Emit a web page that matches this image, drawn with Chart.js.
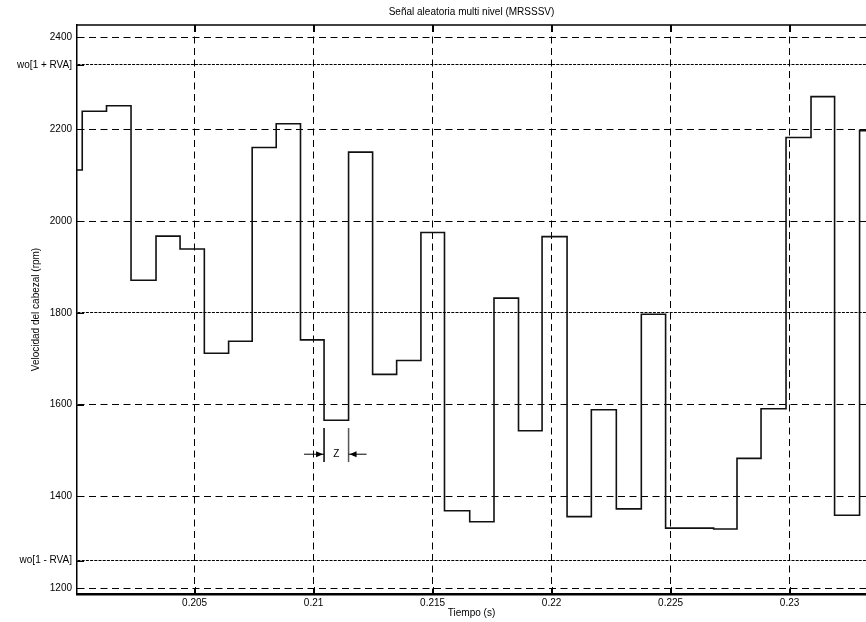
<!DOCTYPE html>
<html lang="es">
<head>
<meta charset="utf-8">
<title>Señal aleatoria multi nivel (MRSSSV)</title>
<script src="https://cdn.jsdelivr.net/npm/chart.js@4.4.1/dist/chart.umd.min.js"></script>
<style>
    html, body { margin: 0; padding: 0; background: #fff; overflow: hidden; }
    #grafico { display: block; }
</style>
</head>
<body>
<canvas id="grafico" width="866" height="622"></canvas>
<script>
// instante (s) en que empieza cada nivel y velocidad (rpm) que se mantiene desde ahi
const tiempos = [0.2, 0.20028, 0.2013, 0.20233, 0.20338, 0.20439, 0.20541, 0.20643, 0.20742, 0.20843,
    0.20945, 0.21044, 0.21147, 0.21248, 0.21349, 0.21451, 0.2155, 0.21656, 0.21758, 0.21861,
    0.2196, 0.22065, 0.22167, 0.22272, 0.22377, 0.22479, 0.22681, 0.22779, 0.2288, 0.22985,
    0.2309, 0.23189, 0.23294, 0.2336];
const velocidades = [2111, 2239, 2251, 1871, 1967, 1939, 1712, 1738, 2160, 2212,
    1741, 1566, 2150, 1666, 1696, 1975, 1369, 1345, 1832, 1543,
    1966, 1356, 1589, 1373, 1797, 1331, 1329, 1483, 1591, 2182,
    2271, 1359, 2197, 2197];

const ticksTiempo = [0.205, 0.21, 0.215, 0.22, 0.225, 0.23];
const ticksVelocidad = [1200, 1260, 1400, 1600, 1800, 2000, 2200, 2340, 2400];
const nivelesWo = [1260, 1800, 2340];
const etiquetasWo = { 1260: 'wo[1 - RVA]', 2340: 'wo[1 + RVA]' };

Chart.defaults.font.family = "'Liberation Sans', Arial, sans-serif";
Chart.defaults.font.size = 10;
Chart.defaults.color = '#000';

// marco superior, marcas interiores y la cota "Z" de un periodo
const marcoYCota = {
    id: 'marcoYCota',
    afterDraw(chart) {
        const { ctx, chartArea: a, scales: { x, y } } = chart;
        ctx.save();
        ctx.strokeStyle = '#000';
        ctx.lineWidth = 1.5;
        ctx.beginPath();
        ctx.moveTo(a.left, a.top);
        ctx.lineTo(a.right, a.top);
        ctx.stroke();

        ctx.lineWidth = 1;
        ctx.beginPath();
        x.ticks.forEach(t => {
            const px = Math.round(x.getPixelForValue(t.value)) + 0.5;
            ctx.moveTo(px, a.top);
            ctx.lineTo(px, a.top + 7);
            ctx.moveTo(px, a.bottom);
            ctx.lineTo(px, a.bottom - 7);
        });
        y.ticks.forEach(t => {
            const py = Math.round(y.getPixelForValue(t.value)) + 0.5;
            ctx.moveTo(a.left, py);
            ctx.lineTo(a.left + 7, py);
        });
        ctx.stroke();

        const x0 = x.getPixelForValue(tiempos[11]);
        const x1 = x.getPixelForValue(tiempos[12]);
        const yTop = y.getPixelForValue(1549);
        const yBot = y.getPixelForValue(1475);
        const yMid = y.getPixelForValue(1492);
        ctx.lineWidth = 1.5;
        ctx.beginPath();
        ctx.moveTo(x0, yTop); ctx.lineTo(x0, yBot);
        ctx.stroke();
        ctx.strokeStyle = '#555';
        ctx.beginPath();
        ctx.moveTo(x1, yTop); ctx.lineTo(x1, yBot);
        ctx.stroke();
        ctx.strokeStyle = '#000';
        ctx.lineWidth = 1;
        ctx.beginPath();
        ctx.moveTo(x0 - 20, yMid); ctx.lineTo(x0, yMid);
        ctx.moveTo(x1 + 18, yMid); ctx.lineTo(x1, yMid);
        ctx.stroke();
        ctx.fillStyle = '#000';
        ctx.beginPath();
        ctx.moveTo(x0 - 1, yMid); ctx.lineTo(x0 - 8, yMid - 3); ctx.lineTo(x0 - 8, yMid + 3);
        ctx.closePath();
        ctx.moveTo(x1 + 1, yMid); ctx.lineTo(x1 + 8, yMid - 3); ctx.lineTo(x1 + 8, yMid + 3);
        ctx.closePath();
        ctx.fill();
        ctx.font = "10px 'Liberation Sans', Arial, sans-serif";
        ctx.textAlign = 'center';
        ctx.textBaseline = 'middle';
        ctx.fillText('Z', (x0 + x1) / 2, yMid);
        ctx.restore();
    }
};

document.addEventListener("DOMContentLoaded", function() {
    const ctx = document.getElementById('grafico').getContext('2d');
    new Chart(ctx, {
        type: 'line',
        data: {
            datasets: [{
                data: tiempos.map((t, i) => ({ x: t, y: velocidades[i] })),
                stepped: 'before',
                borderColor: '#111',
                borderWidth: 1.6,
                pointRadius: 0,
                fill: false
            }]
        },
        options: {
            responsive: false,
            animation: false,
            devicePixelRatio: 1,
            layout: { padding: 0 },
            plugins: {
                legend: { display: false },
                tooltip: { enabled: false },
                title: {
                    display: true,
                    text: 'Señal aleatoria multi nivel (MRSSSV)',
                    fullSize: false,
                    font: { size: 10, weight: 'normal' },
                    padding: { top: 6.5, bottom: 6.5 }
                }
            },
            scales: {
                x: {
                    type: 'linear',
                    min: 0.20006,
                    max: 0.23321,
                    afterBuildTicks: scale => {
                        scale.ticks = ticksTiempo.map(v => ({ value: v }));
                    },
                    afterFit: scale => { scale.height = 28; },
                    ticks: {
                        padding: 3,
                        maxRotation: 0,
                        callback: v => String(+v.toFixed(3))
                    },
                    grid: { color: '#000', lineWidth: 1, drawTicks: false },
                    border: { display: true, color: '#000', width: 2.5, dash: [7, 4.5] },
                    title: {
                        display: true,
                        text: 'Tiempo (s)',
                        padding: { top: 0, bottom: 2.5 }
                    }
                },
                y: {
                    min: 1187.5,
                    max: 2427,
                    afterBuildTicks: scale => {
                        scale.ticks = ticksVelocidad.map(v => ({ value: v }));
                    },
                    afterFit: scale => { scale.width = 77; },
                    ticks: {
                        padding: 5,
                        callback: v => etiquetasWo[v] || String(v)
                    },
                    grid: { color: '#000', lineWidth: 1, drawTicks: false },
                    border: {
                        display: true,
                        color: '#000',
                        width: 1.5,
                        dash: c => (c.tick && nivelesWo.includes(c.tick.value)) ? [3, 1.2] : [7, 4.5]
                    },
                    title: {
                        display: true,
                        text: 'Velocidad del cabezal (rpm)',
                        padding: { top: 30.5, bottom: 0 }
                    }
                }
            }
        },
        plugins: [marcoYCota]
    });
});
</script>
</body>
</html>
